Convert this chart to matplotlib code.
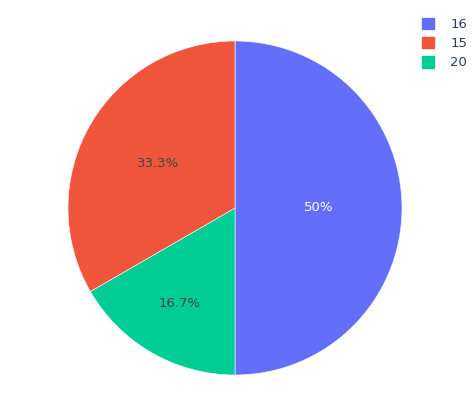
import matplotlib.pyplot as plt
from matplotlib.patches import Patch
import numpy as np

# slices in drawing order (clockwise from the top)
labels = ['16', '20', '15']
values = [3, 1, 2]
colors = ['#636efa', '#00cc96', '#ef553b']
text_colors = ['white', '#444444', '#444444']
text_radius = [0.5, 0.66, 0.53]

# legend order
legend_labels = ['16', '15', '20']

W, H = 477, 403
fig = plt.figure(figsize=(W / 100, H / 100), dpi=100)
cx, cy, r = 235, 208, 167
ax = fig.add_axes([(cx - r) / W, (H - cy - r) / H, 2 * r / W, 2 * r / H])

wedges, texts, autotexts = ax.pie(values, colors=colors, startangle=90, counterclock=False,
                                  autopct=lambda p: f'{p:.1f}%'.replace('.0%', '%'),
                                  wedgeprops=dict(edgecolor='white', linewidth=0.4),
                                  textprops=dict(fontsize=9.5))
ax.set_xlim(-1, 1)
ax.set_ylim(-1, 1)
ax.set_aspect('equal')

for w, t, c, rr in zip(wedges, autotexts, text_colors, text_radius):
    mid = np.deg2rad((w.theta1 + w.theta2) / 2)
    t.set_position((rr * np.cos(mid), rr * np.sin(mid)))
    t.set_color(c)
    t.set_ha('center')
    t.set_va('center')

handles = [Patch(facecolor=colors[labels.index(l)], edgecolor=colors[labels.index(l)], alpha=1)
           for l in legend_labels]
fig.legend(handles, legend_labels, loc='upper left', bbox_to_anchor=(410 / W, 1 - 6 / H),
           frameon=False, handlelength=0.95, handleheight=0.95, handletextpad=1.2,
           labelspacing=0.45, fontsize=9.5, labelcolor='#2a3f5f')

fig.savefig('out.png', dpi=100)
